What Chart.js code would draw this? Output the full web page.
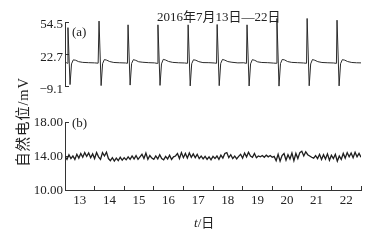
<!DOCTYPE html>
<html>
<head>
<meta charset="utf-8">
<script src="https://cdn.jsdelivr.net/npm/chart.js@4"></script>
<style>
html,body{margin:0;padding:0;background:#fff;}
#wrap{position:relative;width:375px;height:240px;overflow:hidden;background:#fff;}
canvas{position:absolute;left:0;}
.t{position:absolute;font-family:"Liberation Serif","Noto Sans CJK SC",serif;color:#222;white-space:nowrap;line-height:1;}
</style>
</head>
<body>
<div id="wrap">
<canvas id="ca" width="375" height="100" style="top:0;width:375px;height:100px"></canvas>
<canvas id="cb" width="375" height="135" style="top:105px;width:375px;height:135px"></canvas>
<div class="t" style="left:157px;top:10px;font-size:13px;">2016年7月13日—22日</div>
<div class="t" style="left:72px;top:25px;font-size:13px;">(a)</div>
<div class="t" style="left:72px;top:116px;font-size:13px;">(b)</div>
<div class="t" style="left:194px;top:216px;font-size:13px;"><i>t</i>/日</div>
<div class="t" style="left:-26px;top:114px;width:100px;height:16px;text-align:center;font-size:14.5px;letter-spacing:0.8px;transform:rotate(-90deg);transform-origin:50% 50%;">自然电位/mV</div>
</div>
<script>
// ---- data ----
const dayTicks = [13,14,15,16,17,18,19,20,21,22];
const topTicks = [-9.1, 22.7, 54.5];
const bottomTicks = [10, 14, 18];

// (a) spike record: time in days, potential in mV
const topTimes = [
 12.50,12.56,
 12.58,12.60,12.67,12.72,12.78,12.86,12.96,13.10,13.30,13.50,13.62,
 13.65,13.72,13.77,13.83,13.91,14.01,14.15,14.35,14.55,14.61,
 14.63,14.70,14.75,14.81,14.89,14.99,15.13,15.33,15.52,15.62,
 15.64,15.71,15.76,15.82,15.90,16.00,16.14,16.34,16.54,16.64,
 16.66,16.73,16.78,16.84,16.92,17.02,17.16,17.36,17.54,17.62,
 17.64,17.71,17.76,17.82,17.90,18.00,18.14,18.34,18.54,18.63,
 18.65,18.72,18.77,18.83,18.91,19.01,19.15,19.35,19.55,19.64,
 19.66,19.73,19.78,19.84,19.92,20.02,20.16,20.36,20.56,20.66,
 20.68,20.75,20.80,20.86,20.94,21.04,21.18,21.38,21.58,21.67,
 21.69,21.76,21.81,21.87,21.95,22.05,22.19,22.35,22.50
];
const topValues = [
 14.0,14.1,
 13.6,48.9,-7.5,13.0,17.0,16.6,15.2,14.5,14.2,14.0,13.7,
 55.4,-8.5,13.2,17.3,16.7,15.3,14.4,14.1,13.9,13.6,
 51.7,-8.0,13.4,17.2,16.5,15.1,14.6,14.2,14.0,13.5,
 51.7,-8.3,13.0,17.5,16.8,15.4,14.5,14.1,13.9,13.6,
 51.7,-8.8,13.2,17.1,16.6,15.2,14.3,14.2,13.9,13.6,
 52.0,-8.6,13.4,17.4,16.7,15.3,14.6,14.0,14.1,13.5,
 51.7,-8.9,13.1,17.2,16.5,15.0,14.4,14.2,13.8,13.6,
 58.0,-9.0,13.3,17.4,16.9,15.3,14.5,14.2,13.9,13.6,
 58.0,-8.7,13.0,17.3,16.6,15.2,14.4,14.1,13.9,13.5,
 56.3,-8.8,13.2,17.2,16.7,15.3,14.4,14.1,14.0
];

// (b) record sampled every 1/15 day from day 12.5
const bottomStart = 12.5;
const bottomStep = 1/15;
const bottomValues = [
 13.95,13.6,14.15,13.7,14.0,13.6,
 14.2,13.75,14.3,13.85,14.4,13.95,14.35,13.8,14.25,13.7,14.4,13.9,
 13.6,14.4,14.0,14.45,13.7,
 13.45,13.8,13.4,13.75,13.45,13.85,13.5,13.8,13.55,13.9,13.6,
 14.0,13.65,14.05,13.6,13.9,
 14.2,13.7,14.35,13.6,14.05,
 13.75,13.6,14.0,13.65,14.15,13.7,13.55,13.95,13.65,14.1,13.6,13.9,14.0,
 14.3,13.7,14.4,13.8,14.3,13.75,14.35,13.85,14.25,13.8,14.2,13.7,
 14.0,13.65,13.95,13.6,13.9,13.55,13.95,
 13.7,14.0,13.6,14.1,13.75,14.3,14.4,13.8,14.15,13.7,14.0,13.65,13.95,
 14.2,13.75,14.35,13.9,14.45,14.0,13.85,14.3,13.8,
 14.0,13.9,14.05,13.85,14.1,13.9,14.05,13.85,13.95,
 13.45,14.2,13.4,14.05,14.3,13.5,14.15,13.65,14.35,13.45,14.3,13.7,14.4,
 14.55,14.0,14.5,14.15,14.0,13.85,13.75,14.05,
 13.7,14.2,13.6,14.15,13.65,14.25,13.5,14.1,13.7,14.2,13.4,14.0,
 13.6,14.3,13.75,14.4,13.9,14.35,13.8,14.45,13.9,14.3,13.85
];

// ---- build ----
const AX = '#333';
const FONT = {family: '"Liberation Serif", serif', size: 13};
const topData = topTimes.map((t, i) => ({x: t, y: topValues[i]}));
const bottomData = bottomValues.map((v, i) => ({x: bottomStart + i * bottomStep, y: v}));

function yAxis(min, max, ticksArr, fmt, lblOff) {
  return {
    type: 'linear', min: min, max: max,
    afterBuildTicks: s => { s.ticks = ticksArr.map(v => ({value: v})); },
    afterFit: s => { s.width = 65; },
    grid: {drawOnChartArea: false, drawTicks: true, tickLength: -4, color: AX, lineWidth: 1},
    border: {display: true, color: AX, width: 1},
    ticks: {font: FONT, color: '#222', padding: 6, labelOffset: lblOff, callback: fmt}
  };
}

new Chart(document.getElementById('ca'), {
  type: 'line',
  data: {datasets: [{data: topData, borderColor: '#2a2a2a', borderWidth: 1, pointRadius: 0, tension: 0, clip: 8}]},
  options: {
    responsive: false, animation: false, devicePixelRatio: 1,
    layout: {padding: {top: 22, right: 14, bottom: 10, left: 0}},
    plugins: {legend: {display: false}, tooltip: {enabled: false}},
    scales: {
      x: {type: 'linear', min: 12.5, max: 22.5, display: false},
      y: yAxis(-9.1, 54.5, topTicks, v => (v < 0 ? '\u2212' + Math.abs(v).toFixed(1) : v.toFixed(1)), 3)
    }
  }
});

new Chart(document.getElementById('cb'), {
  type: 'line',
  data: {datasets: [{data: bottomData, borderColor: '#1e1e1e', borderWidth: 1.3, pointRadius: 0, tension: 0}]},
  options: {
    responsive: false, animation: false, devicePixelRatio: 1,
    layout: {padding: {top: 17, right: 14, bottom: 0, left: 0}},
    plugins: {legend: {display: false}, tooltip: {enabled: false}},
    scales: {
      x: {
        type: 'linear', min: 12.5, max: 22.5,
        afterBuildTicks: s => { s.ticks = dayTicks.map(v => ({value: v})); },
        afterFit: s => { s.height = 50; },
        grid: {offset: true, drawOnChartArea: false, drawTicks: true, tickLength: -4, color: AX, lineWidth: 1},
        border: {display: true, color: AX, width: 1},
        ticks: {font: FONT, color: '#222', padding: 7, maxRotation: 0, autoSkip: false, callback: v => String(v)}
      },
      y: yAxis(10, 18, bottomTicks, v => v.toFixed(2), 1)
    }
  }
});
</script>
</body>
</html>
